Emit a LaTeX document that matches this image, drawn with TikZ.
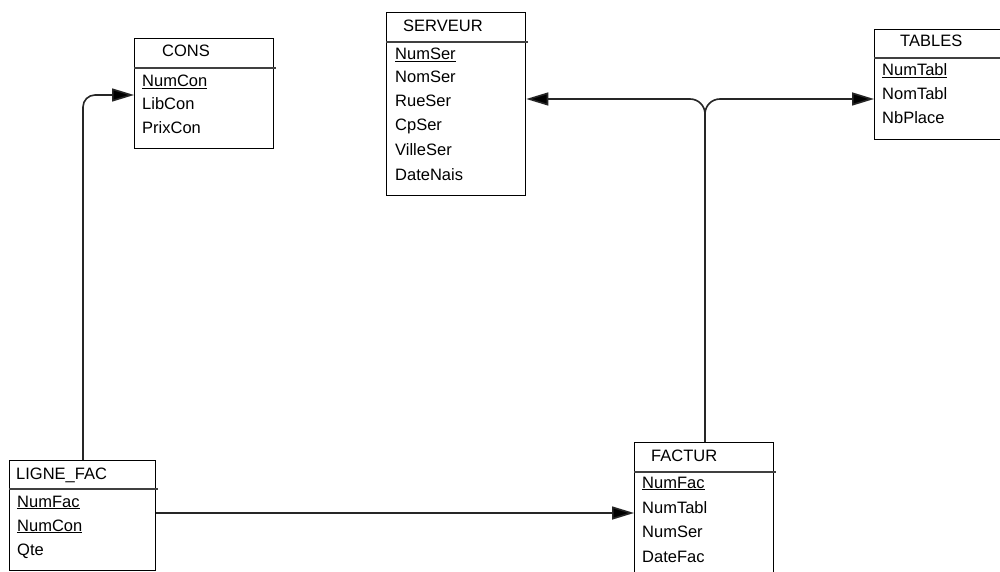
\documentclass[tikz,border=0pt]{standalone}
\usepackage{fontspec}
\setmainfont{Liberation Sans}
\usetikzlibrary{arrows.meta,calc}
\begin{document}
\begin{tikzpicture}[x=1pt,y=-1pt,
  ebox/.style={draw=black,line width=1.3pt,inner sep=0pt,anchor=north west},
  sepline/.style={draw=black!75,line width=1.6pt},
  txt/.style={anchor=base west,inner sep=0pt,font=\fontsize{16.5}{19}\selectfont},
  conn/.style={draw=black!85,line width=1.6pt,-{Triangle[length=22pt,width=13pt,fill=black]}}]
\useasboundingbox[fill=white] (0,0) rectangle (1000,572);
% boxes
\node[ebox,minimum width=139pt,minimum height=110pt] (cons) at (134,38) {};
\node[ebox,minimum width=139pt,minimum height=183pt] (serv) at (386,12) {};
\node[ebox,minimum width=139pt,minimum height=110pt] (tab) at (874,29) {};
\node[ebox,minimum width=146pt,minimum height=110pt] (lf) at (9,460) {};
\node[ebox,minimum width=139pt,minimum height=140pt] (fac) at (634,442) {};
% separators
\draw[sepline] ($(cons.north west)+(0,30)$) -- ($(cons.north east)+(2,30)$);
\draw[sepline] ($(serv.north west)+(0,30)$) -- ($(serv.north east)+(2,30)$);
\draw[sepline] ($(tab.north west)+(0,29)$) -- ($(tab.north east)+(2,29)$);
\draw[sepline] ($(lf.north west)+(0,29)$) -- ($(lf.north east)+(2,29)$);
\draw[sepline] ($(fac.north west)+(0,30)$) -- ($(fac.north east)+(2,30)$);
% CONS
\node[txt] (cons-t) at (162,57) {CONS};
\node[txt] (cons-1) at (142,87) {\underline{NumCon}};
\node[txt] (cons-2) at (142,110) {LibCon};
\node[txt] (cons-3) at (142,134) {PrixCon};
% SERVEUR
\node[txt] (serv-t) at (403,32) {SERVEUR};
\node[txt] (serv-1) at (395,60) {\underline{NumSer}};
\node[txt] (serv-2) at (395,83) {NomSer};
\node[txt] (serv-3) at (395,107) {RueSer};
\node[txt] (serv-4) at (395,131) {CpSer};
\node[txt] (serv-5) at (395,156) {VilleSer};
\node[txt] (serv-6) at (395,180) {DateNais};
% TABLES
\node[txt] (tab-t) at (900,47) {TABLES};
\node[txt] (tab-1) at (882,76) {\underline{NumTabl}};
\node[txt] (tab-2) at (882,100) {NomTabl};
\node[txt] (tab-3) at (882,124) {NbPlace};
% LIGNE_FAC
\node[txt] (lf-t) at (16,479) {LIGNE\_FAC};
\node[txt] (lf-1) at (17,507) {\underline{NumFac}};
\node[txt] (lf-2) at (17,531) {\underline{NumCon}};
\node[txt] (lf-3) at (17,555) {Qte};
% FACTUR
\node[txt] (fac-t) at (651,461) {FACTUR};
\node[txt] (fac-1) at (642,488) {\underline{NumFac}};
\node[txt] (fac-2) at (642,513) {NumTabl};
\node[txt] (fac-3) at (642,537) {NumSer};
\node[txt] (fac-4) at (642,562) {DateFac};
% connectors
\draw[conn,rounded corners=12pt] ($(lf.north west)+(74,0)$) |- ($(cons.north west)+(0,57)$);
\draw[conn] ($(lf.north east)+(0,53)$) -- ($(fac.north west)+(0,71)$);
\coordinate (fk) at ($(fac.north west)+(71,0)$);
\draw[conn,rounded corners=15pt] (fk) |- ($(serv.north east)+(0,87)$);
\draw[conn,rounded corners=15pt] (fk) |- ($(tab.north west)+(0,70)$);
\end{tikzpicture}
\end{document}
